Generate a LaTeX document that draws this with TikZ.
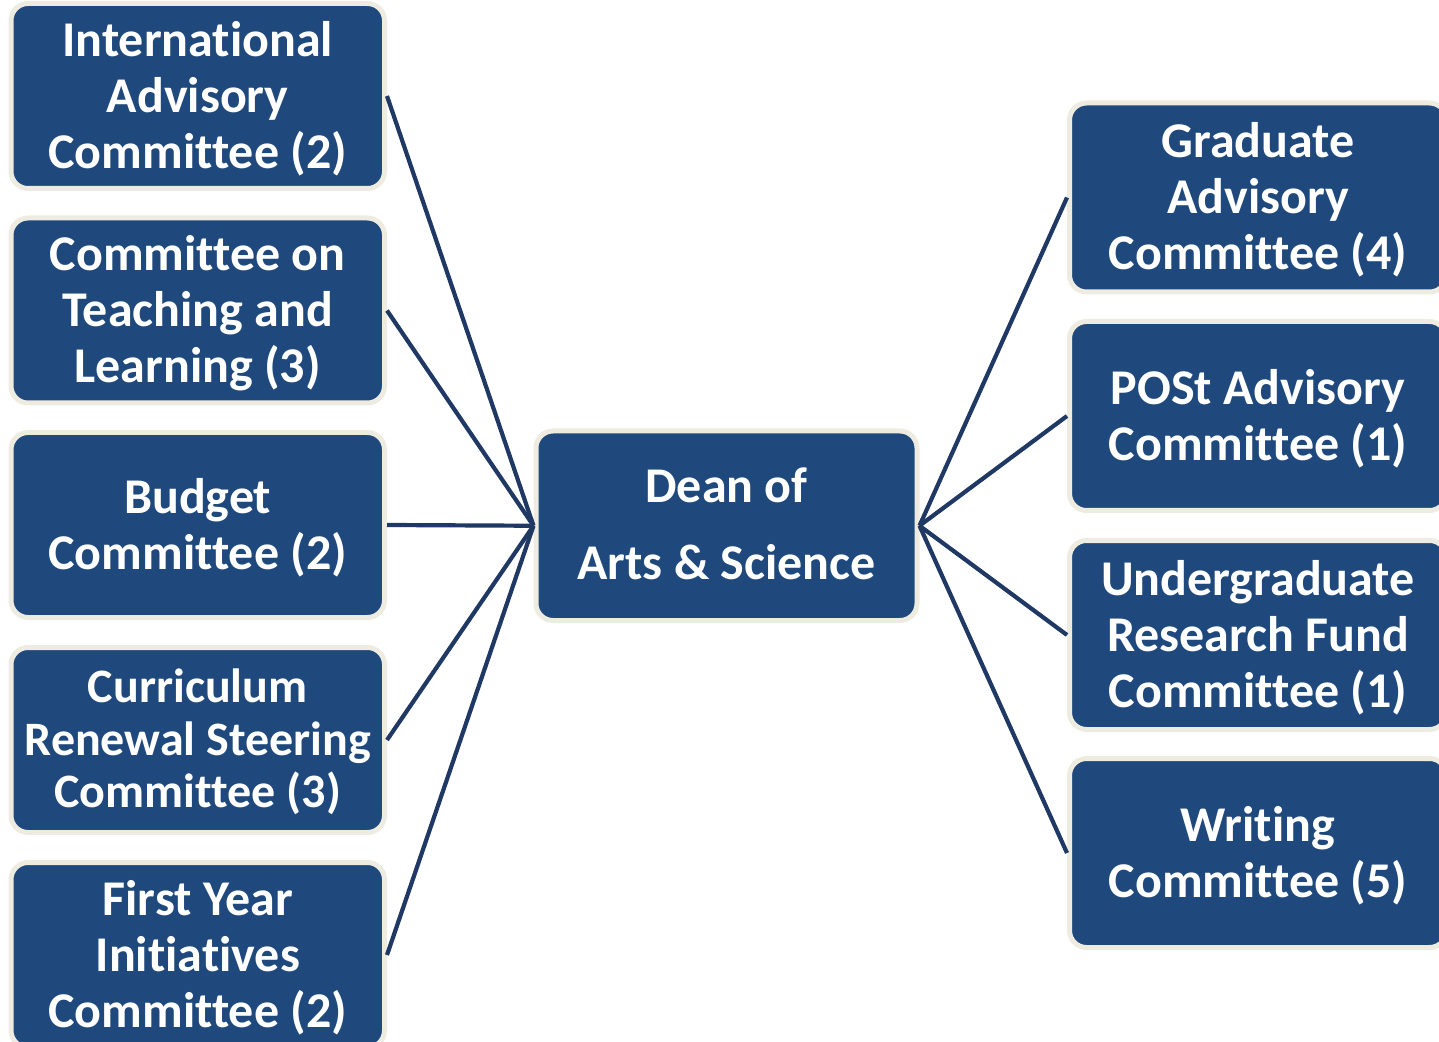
\documentclass[tikz,border=0pt]{standalone}
\usepackage{fontspec}
\setmainfont{Carlito}[RawFeature={-liga;-clig;-calt;-dlig}]
\definecolor{boxblue}{HTML}{1F497D}
\definecolor{rimbeige}{HTML}{EEECE1}
\definecolor{linknavy}{HTML}{1F3864}
\begin{document}
\begin{tikzpicture}[x=0.5pt,y=-0.5pt,
  cbox/.style={draw=rimbeige, fill=boxblue, line width=2.5pt, rounded corners=8.5pt, inner sep=0pt},
  lbox/.style={cbox, minimum width=186.75pt, minimum height=92.5pt},
  rbox/.style={cbox, minimum width=188.5pt, minimum height=94.5pt},
  btext/.style={text=white, align=center, inner sep=0pt, yshift=-1.25pt,
    font=\bfseries\fontsize{25}{28}\selectfont},
  link/.style={draw=linknavy, line width=2.1pt}]
\clip (0,0) rectangle (1439,1042);
% left column
\node[lbox] (l1) at (197.75,96) {};
\node[lbox] (l2) at (197.75,310.5) {};
\node[lbox] (l3) at (197.75,525) {};
\node[lbox] (l4) at (197.75,740) {};
\node[lbox] (l5) at (197.75,955) {};
\node[btext] (l1t) at (l1.center) {International\\Advisory\\Committee (2)};
\node[btext] (l2t) at (l2.center) {Committee on\\Teaching and\\Learning (3)};
\node[btext] (l3t) at (l3.center) {Budget\\Committee (2)};
\node[btext, yshift=0.25pt, font=\bfseries\fontsize{24}{26.25}\selectfont] (l4t) at (l4.center) {Curriculum\\Renewal Steering\\Committee (3)};
\node[btext] (l5t) at (l5.center) {First Year\\Initiatives\\Committee (2)};
% centre
\node[cbox, minimum width=190.5pt, minimum height=94.75pt] (dean) at (726.5,525.75) {};
\node[btext, yshift=2.25pt, font=\bfseries\fontsize{25}{38.5}\selectfont] (deant) at (dean.center) {Dean of\\Arts \& Science};
% right column
\node[rbox] (r1) at (1258,197.5) {};
\node[rbox] (r2) at (1258,416) {};
\node[rbox] (r3) at (1258,635) {};
\node[rbox] (r4) at (1258,853) {};
\node[btext] (r1t) at (r1.center) {Graduate\\Advisory\\Committee (4)};
\node[btext] (r2t) at (r2.center) {POSt Advisory\\Committee (1)};
\node[btext] (r3t) at (r3.center) {Undergraduate\\Research Fund\\Committee (1)};
\node[btext] (r4t) at (r4.center) {Writing\\Committee (5)};
% connectors
\foreach \n in {l1,l2,l3,l4,l5} \draw[link] (\n.east) -- (dean.west);
\foreach \n in {r1,r2,r3,r4} \draw[link] (dean.east) -- (\n.west);
\end{tikzpicture}
\end{document}
